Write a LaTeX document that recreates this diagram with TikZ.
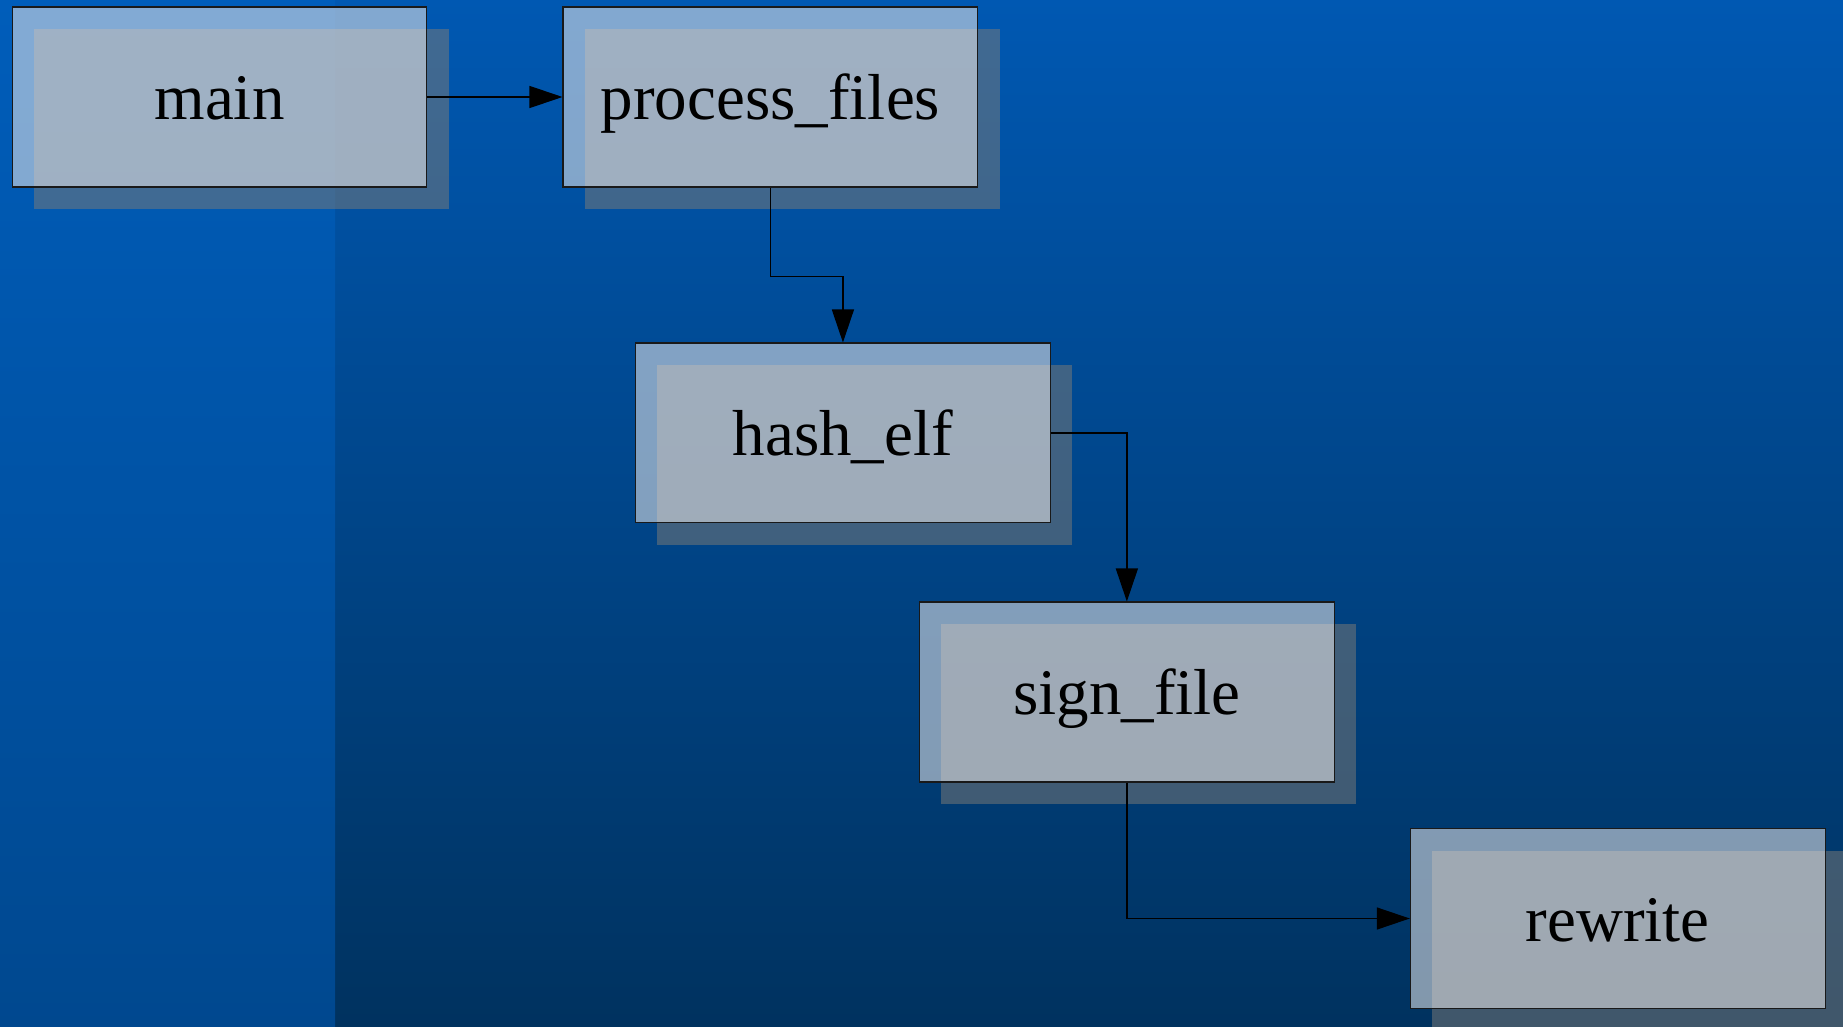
\documentclass[tikz,border=0pt]{standalone}
\usepackage{fontspec}
\setmainfont{Liberation Serif}
\usepackage{tikz}
\usetikzlibrary{arrows.meta, positioning, shadows}

\definecolor{bgtop}{HTML}{0058B2}
\definecolor{bgbot}{HTML}{00325F}
\definecolor{striptop}{HTML}{005DBA}
\definecolor{stripbot}{HTML}{00488F}
\definecolor{boxfill}{RGB}{238,235,235}
\definecolor{shadowfill}{RGB}{128,124,118}

\begin{document}
\begin{tikzpicture}[x=0.02cm, y=-0.02cm,
    fnbox/.style={rectangle, draw=black!90, line width=0.6pt,
      fill=boxfill, fill opacity=0.55, text opacity=1,
      minimum width=8.3cm, minimum height=3.6cm, inner sep=0pt,
      text height=1.2cm, text depth=0.28cm,
      font=\fontsize{37}{40}\selectfont,
      drop shadow={shadow xshift=0.44cm, shadow yshift=-0.44cm,
        fill=shadowfill, opacity=0.5}},
    call/.style={line width=0.75pt, -{Triangle[length=0.66cm, width=0.44cm]}}]
        \useasboundingbox (0,0) rectangle (1843,1027);
        \clip (0,0) rectangle (1843,1027);

        % background
        \shade[top color=bgtop, bottom color=bgbot] (335,0) rectangle (1843,1027);
        \shade[top color=striptop, bottom color=stripbot] (0,0) rectangle (335,1027);

        \node (main) [fnbox] at (219.5, 97) {main};
        \node (procfiles) [fnbox, right=2.7cm of main] {process\_files};
        \node (hashelf) [fnbox, below=3.1cm of procfiles, xshift=1.45cm] {hash\_elf};
        \node (signfile) [fnbox, below=1.56cm of hashelf, xshift=5.68cm] {sign\_file};
        \node (rewrite) [fnbox, below=0.91cm of signfile, xshift=9.82cm] {rewrite};

        \draw[call] (main.east) -- (procfiles.west);
        \draw[call] (procfiles.south) -- +(0, 89) -| (hashelf.north);
        \draw[call] (hashelf.east) -| (signfile.north);
        \draw[call] (signfile.south) |- (rewrite.west);
      \end{tikzpicture}
\end{document}
